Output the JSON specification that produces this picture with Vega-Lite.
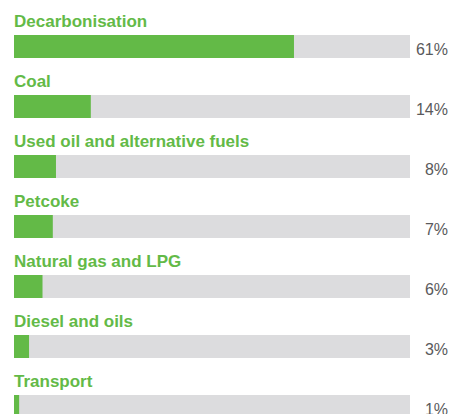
{
  "$schema": "https://vega.github.io/schema/vega-lite/v6.json",
  "width": 396,
  "height": 420,
  "autosize": "none",
  "padding": {"left": 14, "top": 0, "right": 40, "bottom": 0},
  "background": "white",
  "config": {"view": {"stroke": null}},
  "data": {
    "values": [
      {"category": "Decarbonisation", "value": 61, "length": 70.7, "label": "61%"},
      {"category": "Coal", "value": 14, "length": 19.4, "label": "14%"},
      {"category": "Used oil and alternative fuels", "value": 8, "length": 10.6, "label": "8%"},
      {"category": "Petcoke", "value": 7, "length": 9.8, "label": "7%"},
      {"category": "Natural gas and LPG", "value": 6, "length": 7.2, "label": "6%"},
      {"category": "Diesel and oils", "value": 3, "length": 3.8, "label": "3%"},
      {"category": "Transport", "value": 1, "length": 1.3, "label": "1%"}
    ]
  },
  "encoding": {
    "y": {
      "field": "category",
      "type": "nominal",
      "sort": null,
      "axis": null,
      "scale": {"paddingInner": 0, "paddingOuter": 0}
    }
  },
  "layer": [
    {
      "mark": {"type": "bar", "color": "#dcdcde", "height": 23, "yOffset": 16.5, "cornerRadius": 0},
      "encoding": {
        "x": {"datum": 100, "type": "quantitative", "scale": {"domain": [0, 100]}, "axis": null}
      }
    },
    {
      "mark": {"type": "bar", "color": "#63ba47", "height": 23, "yOffset": 16.5},
      "encoding": {
        "x": {"field": "length", "type": "quantitative", "scale": {"domain": [0, 100]}, "axis": null}
      }
    },
    {
      "mark": {"type": "text", "align": "left", "baseline": "alphabetic", "dy": -3.3, "font": "Liberation Sans", "fontWeight": "bold", "fontSize": 17, "color": "#63ba47"},
      "encoding": {
        "x": {"datum": 0, "type": "quantitative"},
        "text": {"field": "category"}
      }
    },
    {
      "mark": {"type": "text", "align": "right", "baseline": "alphabetic", "dx": 38, "dy": 25, "font": "Liberation Sans", "fontSize": 16, "color": "#5a5a5c"},
      "encoding": {
        "x": {"datum": 100, "type": "quantitative"},
        "text": {"field": "label"}
      }
    }
  ]
}
